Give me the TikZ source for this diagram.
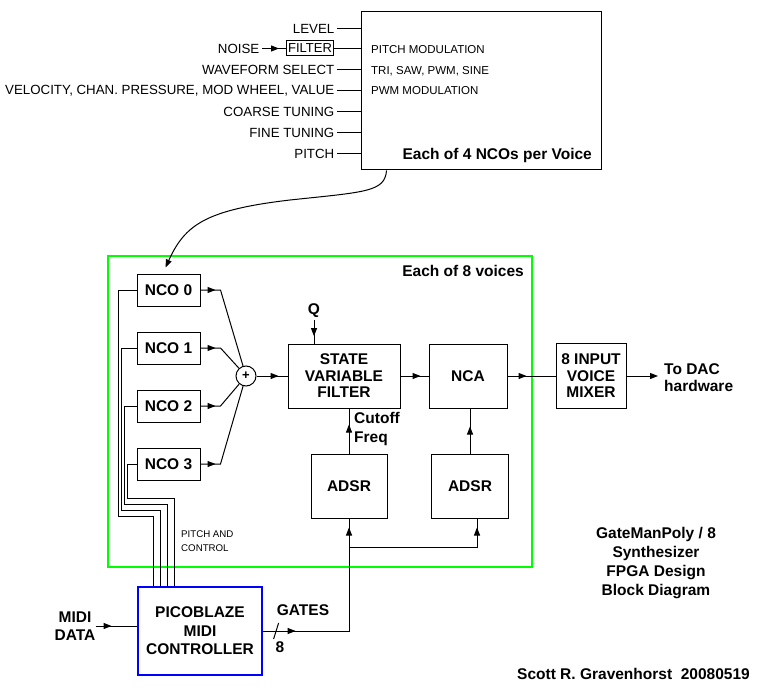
\documentclass[tikz,border=0pt]{standalone}
\usepackage{fontspec}
\setmainfont{Liberation Sans}
\usetikzlibrary{arrows.meta,positioning,decorations.markings,calc}
\definecolor{voicegreen}{RGB}{0,255,0}
\definecolor{picoblue}{RGB}{0,0,255}
\tikzset{
  blk/.style={draw, line width=1pt, inner sep=0pt, align=center,
    font=\bfseries\fontsize{15.5}{16.5}\selectfont},
  inlbl/.style={anchor=east, inner sep=2.5pt, font=\fontsize{13.3}{15}\selectfont},
  txt/.style={anchor=west, inner sep=0pt, font=\fontsize{11.5}{13}\selectfont},
  bold/.style={inner sep=0pt, align=center, font=\bfseries\fontsize{15.5}{18}\selectfont},
  wire/.style={line width=1pt},
  tip/.style={-{Triangle[length=8pt,width=6pt]}},
  midarr/.style={postaction={decorate}, decoration={markings,
    mark=at position #1 with {\arrow{Triangle[length=8pt,width=6pt]}}}},
}
\begin{document}
\begin{tikzpicture}[x=1pt,y=-1pt]
  \useasboundingbox (0,0) rectangle (759,692);
  % NCO detail box
  \node[draw, line width=1pt, minimum width=240pt, minimum height=158pt, inner sep=0pt] (ncobox) at (481,91) {};
  \node[bold, anchor=east] (ncotitle) at (592,155) {Each of 4 NCOs per Voice};
  \foreach \y/\name/\lab in {29/lvl/LEVEL, 70/wave/WAVEFORM SELECT,
      91/velo/{VELOCITY, CHAN. PRESSURE, MOD WHEEL, VALUE},
      112/coarse/COARSE TUNING, 133/fine/FINE TUNING, 154/pitch/PITCH}
  {
    \node[inlbl] (\name) at (337,\y) {\lab};
    \draw[wire] (\name.east) -- (\name.east -| ncobox.west);
  }
  \node[draw, line width=1pt, inner sep=0pt, minimum width=47pt, minimum height=15pt,
    font=\fontsize{13}{15}\selectfont] (filt) at (310,48.5) {FILTER};
  \node[inlbl] (noise) at (262,48.5) {NOISE};
  \draw[wire, midarr=17pt] (noise.east) -- (filt.west);
  \draw[wire] (filt.east) -- (filt.east -| ncobox.west);
  \node[txt] (pmod) at (371,50) {PITCH MODULATION};
  \node[txt] (wsel) at (371,71) {TRI, SAW, PWM, SINE};
  \node[txt] (pwm) at (371,91) {PWM MODULATION};
  %
  % one voice
  \node[draw=voicegreen, line width=2.5pt, minimum width=424pt, minimum height=311pt, inner sep=0pt] (voice) at (320,411.5) {};
  \node[bold, anchor=east] (voicetitle) at (524,271) {Each of 8 voices};
  \foreach \i/\y in {0/290,1/348,2/406,3/464}
    \node[blk, minimum width=63pt, minimum height=32pt] (nco\i) at (168.5,\y) {NCO \i};
  \coordinate (ncoin) at ($(nco0.north)+(-3,-6)$);
  \draw[wire, tip] ($(ncobox.south west)+(26,0)$) .. controls (385,192) and (365,192) .. (290,200)
    .. controls (205,210) and (185,225) .. (ncoin);
  \node[draw, circle, line width=1pt, minimum size=20pt, inner sep=0pt,
    font=\bfseries\fontsize{13}{13}\selectfont] (sum) at (246,376) {+};
  \foreach \i in {0,...,3}
    \draw[wire, midarr=15pt] (nco\i.east) -- ++(20,0) -- (sum);
  \node[blk, minimum width=112pt, minimum height=64pt] (svf) at (344,376) {STATE\\VARIABLE\\FILTER};
  \node[blk, minimum width=78pt, minimum height=64pt] (nca) at (468,376) {NCA};
  \node[blk, minimum width=70pt, minimum height=65pt] (mix) at (591,376) {8 INPUT\\VOICE\\MIXER};
  \node[blk, minimum width=76pt, minimum height=64pt] (adsrA) at (349,486) {ADSR};
  \node[blk, minimum width=77pt, minimum height=64pt] (adsrB) at (470,486) {ADSR};
  \draw[wire, midarr=22pt] (sum) -- (svf);
  \draw[wire, midarr=20pt] (svf) -- (nca);
  \draw[wire, midarr=19pt] (nca) -- (mix);
  \coordinate (dac) at (658,376);
  \draw[wire, tip] (mix) -- (dac);
  \node[bold, anchor=west, align=left, font=\bfseries\fontsize{15.5}{17}\selectfont] (dactxt) at (664,378) {To DAC\\hardware};
  \node[bold, inner sep=2pt] (q) at (314,311) {Q};
  \draw[wire, midarr=16pt] (q.south) -- (q.south |- svf.north);
  \draw[wire, midarr=29pt] (adsrA.north) -- (adsrA.north |- svf.south);
  \node[bold, anchor=west, align=left, font=\bfseries\fontsize{15.5}{19}\selectfont] (cut) at (354,429) {Cutoff\\Freq};
  \draw[wire, midarr=27pt] (adsrB.north) -- (adsrB.north |- nca.south);
  %
  % controller and gates
  \node[blk, draw=picoblue, line width=1.2pt, minimum width=124pt, minimum height=88pt,
    font=\bfseries\fontsize{15.5}{18.5}\selectfont] (pico) at (200,631) {PICOBLAZE\\MIDI\\CONTROLLER};
  \foreach \i/\xa/\ya/\xb in {0/118/516/153, 1/121.5/510/160, 2/124.5/504/167, 3/127.5/498/174}
    \draw[wire] (nco\i.west) -| (\xa,\ya) -| (\xb,0 |- pico.north);
  \node[anchor=west, align=left, inner sep=0pt, font=\fontsize{9.7}{14}\selectfont] (pctl) at (181,541) {PITCH AND\\CONTROL};
  \node[bold] (midi) at (75,626) {MIDI\\DATA};
  \draw[wire, midarr=16pt] (midi.east) -- (midi.east -| pico.west);
  \coordinate (split) at ($(adsrA.south)+(0,29)$);
  \coordinate (splitB) at ($(adsrB.south)+(7,29)$);
  \draw[wire, midarr=33pt] (pico.east) -| (split);
  \draw[wire, midarr=20pt] (split) -- (adsrA.south);
  \draw[wire] (split) -- (splitB);
  \draw[wire, midarr=20pt] (splitB) -- (splitB |- adsrB.south);
  \draw[wire] ($(pico.east)+(16,-8)$) -- ($(pico.east)+(11,8)$);
  \node[bold] (gates) at (303,610) {GATES};
  \node[bold] (eight) at (280,647) {8};
  %
  \node[bold, font=\bfseries\fontsize{15.5}{19}\selectfont] (title) at (656,563) {GateManPoly / 8\\Synthesizer\\FPGA Design\\Block Diagram};
  \node[bold, anchor=east] (author) at (750,674) {Scott R. Gravenhorst\ \ 20080519};
\end{tikzpicture}
\end{document}
